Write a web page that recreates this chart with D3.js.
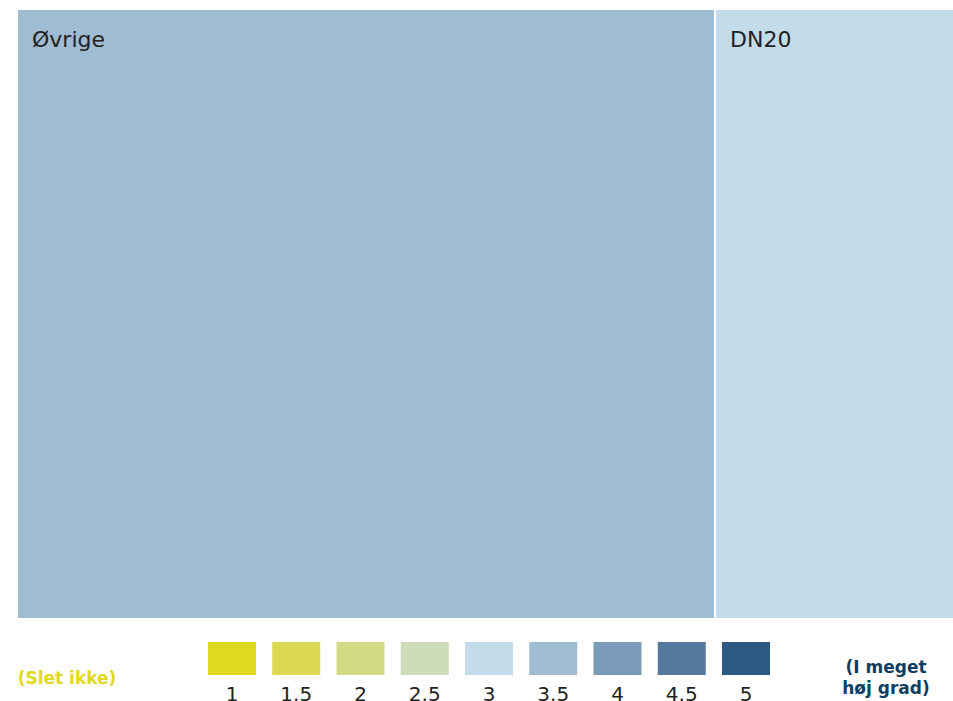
<!DOCTYPE html>
<html>
<head>
<meta charset="utf-8">
<script src="https://cdn.jsdelivr.net/npm/d3@7"></script>
<style>
  html, body { margin: 0; padding: 0; background: #fff; overflow: hidden; }
  svg { display: block; font-family: "DejaVu Sans", Verdana, sans-serif; }
</style>
</head>
<body>
<svg id="chart" width="953" height="701"></svg>
<script>
// Treemap cells: name, size and score on the 1–5 scale
const names  = ["Øvrige", "DN20"];
const sizes  = [74.5, 25.5];
const scores = [3.5, 3];

// Colour legend
const legendValues = [1, 1.5, 2, 2.5, 3, 3.5, 4, 4.5, 5];
const legendLabels = ["1", "1.5", "2", "2.5", "3", "3.5", "4", "4.5", "5"];
const legendColors = ["#e1d920", "#dad951", "#d4db87", "#cfdcb9", "#c4dce9",
                      "#9fbcd2", "#7a9cb8", "#54799d", "#2e5983"];
const lowLabel  = "(Slet ikke)";
const highLabel = ["(I meget", "høj grad)"];

const svg = d3.select("#chart");
const tm = { left: 18, top: 10, width: 935, height: 608 };

const color = d3.scaleOrdinal().domain(legendValues).range(legendColors);

const root = d3.hierarchy({
    children: names.map((n, i) => ({ name: n, size: sizes[i], score: scores[i] }))
  })
  .sum(d => d.size || 0)
  .sort((a, b) => b.value - a.value);

d3.treemap()
  .tile(d3.treemapSquarify)
  .size([tm.width, tm.height])
  .paddingInner(2)
  .round(false)(root);

const g = svg.append("g").attr("transform", `translate(${tm.left},${tm.top})`);

const cell = g.selectAll("g.cell")
  .data(root.leaves())
  .join("g")
  .attr("class", "cell")
  .attr("transform", d => `translate(${d.x0},${d.y0})`);

cell.append("rect")
  .attr("width", d => d.x1 - d.x0)
  .attr("height", d => d.y1 - d.y0)
  .attr("fill", d => color(d.data.score));

cell.append("text")
  .attr("x", 14)
  .attr("y", 37)
  .attr("font-size", 22)
  .attr("fill", "#222")
  .text(d => d.data.name);

// Legend: swatch centres evenly spaced
const swW = 48, swH = 33;
const lx = d3.scalePoint()
  .domain(legendLabels)
  .range([232, 746]);

const leg = svg.append("g");
leg.selectAll("rect")
  .data(legendLabels)
  .join("rect")
  .attr("x", d => lx(d) - swW / 2)
  .attr("y", 642)
  .attr("width", swW)
  .attr("height", swH)
  .attr("fill", (d, i) => legendColors[i]);

leg.selectAll("text")
  .data(legendLabels)
  .join("text")
  .attr("x", d => lx(d))
  .attr("y", 701)
  .attr("text-anchor", "middle")
  .attr("font-size", 20)
  .attr("fill", "#222")
  .text(d => d);

svg.append("text")
  .attr("x", 67)
  .attr("y", 684)
  .attr("text-anchor", "middle")
  .attr("font-size", 17)
  .attr("font-weight", "bold")
  .attr("fill", "#e1d920")
  .text(lowLabel);

svg.append("text")
  .attr("x", 886)
  .attr("y", 673)
  .attr("text-anchor", "middle")
  .attr("font-size", 17)
  .attr("font-weight", "bold")
  .attr("fill", "#0f3e5e")
  .selectAll("tspan")
  .data(highLabel)
  .join("tspan")
  .attr("x", 886)
  .attr("dy", (d, i) => i === 0 ? 0 : 21)
  .text(d => d);
</script>
</body>
</html>
